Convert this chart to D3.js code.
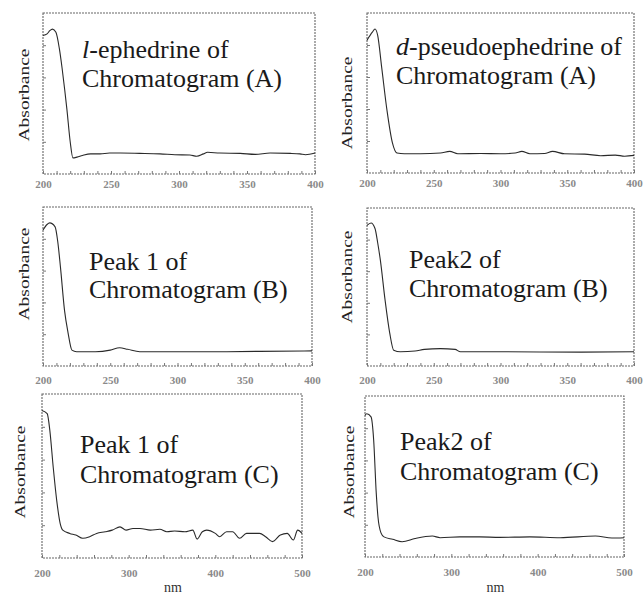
<!DOCTYPE html>
<html>
<head>
<meta charset="utf-8">
<script src="https://cdn.jsdelivr.net/npm/d3@7"></script>
<style>
  html, body { margin: 0; padding: 0; background: #fff; }
  svg { display: block; }
</style>
</head>
<body>
<svg id="chart" width="644" height="596"></svg>
<script>
// UV spectra: wavelength (nm) and relative absorbance (0..1 of the frame)
const nmA1 = [200, 203, 205, 207, 209.5, 212, 214, 216, 217.6, 220, 222, 225, 229, 235, 242, 249, 257, 271, 286, 297, 308, 313, 318, 321, 330, 345, 356, 367, 382, 389, 393, 400];
const absA1 = [0.86, 0.87, 0.89, 0.90, 0.88, 0.78, 0.66, 0.52, 0.40, 0.20, 0.10, 0.105, 0.115, 0.125, 0.125, 0.13, 0.13, 0.128, 0.125, 0.12, 0.118, 0.11, 0.125, 0.135, 0.13, 0.128, 0.122, 0.13, 0.128, 0.125, 0.12, 0.13];

const nmA2 = [200, 204, 206, 208, 211, 215, 219, 222.5, 228, 240, 255, 262, 268, 285, 300, 311, 316, 322, 333, 339, 348, 363, 375, 386, 393, 400];
const absA2 = [0.83, 0.88, 0.90, 0.86, 0.66, 0.39, 0.19, 0.125, 0.12, 0.12, 0.125, 0.135, 0.12, 0.122, 0.12, 0.125, 0.135, 0.12, 0.122, 0.135, 0.12, 0.118, 0.108, 0.112, 0.105, 0.11];

const nmB1 = [200, 203, 205, 209, 211, 213, 216, 218.6, 221.5, 225, 239, 250, 257, 263, 272, 294, 332, 361, 400];
const absB1 = [0.855, 0.89, 0.90, 0.875, 0.78, 0.62, 0.35, 0.21, 0.10, 0.09, 0.09, 0.10, 0.115, 0.105, 0.09, 0.09, 0.09, 0.092, 0.095];

const nmB2 = [200, 203, 206, 208, 210, 213.5, 217, 220, 225, 236, 243, 255, 266, 270, 300, 360, 400];
const absB2 = [0.89, 0.905, 0.87, 0.78, 0.67, 0.42, 0.21, 0.10, 0.09, 0.095, 0.105, 0.11, 0.105, 0.09, 0.09, 0.088, 0.09];

const nmC1 = [200, 206, 209, 213, 217, 221, 224, 232, 239, 247, 255, 263, 273, 281, 290, 297, 305, 313, 325, 336, 344, 353, 365, 374, 379, 385, 390, 400, 405, 413, 420, 428, 436, 446, 451, 458, 466, 475, 483, 490, 495, 500];
const absC1 = [0.90, 0.88, 0.78, 0.55, 0.35, 0.21, 0.17, 0.15, 0.14, 0.12, 0.13, 0.15, 0.16, 0.17, 0.19, 0.17, 0.18, 0.18, 0.17, 0.175, 0.16, 0.165, 0.16, 0.17, 0.115, 0.16, 0.17, 0.15, 0.13, 0.16, 0.16, 0.12, 0.15, 0.15, 0.15, 0.13, 0.10, 0.14, 0.15, 0.11, 0.17, 0.15];

const nmC2 = [200, 202, 207, 210, 213, 215, 218.5, 222, 232, 243, 258, 278, 287, 310, 333, 356, 391, 426, 467, 486, 500];
const absC2 = [0.88, 0.89, 0.87, 0.73, 0.40, 0.25, 0.15, 0.125, 0.11, 0.095, 0.115, 0.13, 0.12, 0.125, 0.125, 0.122, 0.125, 0.12, 0.13, 0.118, 0.12];

const ticksShort = [200, 250, 300, 350, 400];
const ticksLong = [200, 300, 400, 500];

const SERIF = "'Liberation Serif', 'Times New Roman', Tinos, 'DejaVu Serif', serif";

const panels = [
  { nm: nmA1, abs: absA1, domain: [200, 400], ticks: ticksShort, minor: 10,
    box: [43, 13, 315, 174], pad: 6, absX: 29, absY: 95,
    title: [['l', '-ephedrine of'], ['', 'Chromatogram (A)']], tx: 82, ty: [58, 87] },
  { nm: nmA2, abs: absA2, domain: [200, 400], ticks: ticksShort, minor: 10,
    box: [367, 13, 634, 173], pad: 6, absX: 352, absY: 103,
    title: [['d', '-pseudoephedrine of'], ['', 'Chromatogram (A)']], tx: 396, ty: [55, 84] },
  { nm: nmB1, abs: absB1, domain: [200, 400], ticks: ticksShort, minor: 10,
    box: [43, 207, 312, 366], pad: 10, absX: 29, absY: 274,
    title: [['', 'Peak 1 of'], ['', 'Chromatogram (B)']], tx: 89, ty: [270, 298] },
  { nm: nmB2, abs: absB2, domain: [200, 400], ticks: ticksShort, minor: 10,
    box: [367, 208, 634, 366], pad: 10, absX: 352, absY: 277,
    title: [['', 'Peak2 of'], ['', 'Chromatogram (B)']], tx: 409, ty: [268, 297] },
  { nm: nmC1, abs: absC1, domain: [200, 500], ticks: ticksLong, minor: 20,
    box: [42, 394, 302, 558], pad: 11, absX: 25, absY: 472, xlabel: 'nm',
    title: [['', 'Peak 1 of'], ['', 'Chromatogram (C)']], tx: 80, ty: [453, 483] },
  { nm: nmC2, abs: absC2, domain: [200, 500], ticks: ticksLong, minor: 20,
    box: [365, 396, 624, 557], pad: 11, absX: 354, absY: 472, xlabel: 'nm',
    title: [['', 'Peak2 of'], ['', 'Chromatogram (C)']], tx: 400, ty: [450, 480] },
];

const svg = d3.select('#chart');

panels.forEach(drawPanel);

function drawPanel(p) {
  const [left, top, right, bottom] = p.box;
  const x = d3.scaleLinear().domain(p.domain).range([left, right]);
  const y = d3.scaleLinear().domain([0, 1]).range([bottom, top]);
  const g = svg.append('g').attr('font-family', SERIF);

  // frame (the scan makes it look dotted)
  g.append('rect')
    .attr('x', left)
    .attr('y', top)
    .attr('width', right - left)
    .attr('height', bottom - top)
    .attr('fill', 'none')
    .attr('stroke', '#666')
    .attr('stroke-width', 1.1)
    .attr('stroke-dasharray', '2,1');

  // small inward ticks
  const minorX = g.append('g')
    .attr('transform', `translate(0,${bottom})`)
    .call(
      d3.axisBottom(x)
        .tickValues(d3.range(p.domain[0], p.domain[1] + 1, p.minor))
        .tickSize(-3)
        .tickFormat(''),
    );
  const minorY = g.append('g')
    .attr('transform', `translate(${left},0)`)
    .call(d3.axisLeft(y).tickValues([0.2, 0.4, 0.6, 0.8]).tickSize(-3).tickFormat(''));
  [minorX, minorY].forEach((axis) => {
    axis.select('.domain').remove();
    axis.selectAll('line').attr('stroke', '#777');
  });

  // tick labels
  const labels = g.append('g')
    .attr('transform', `translate(0,${bottom})`)
    .call(d3.axisBottom(x).tickValues(p.ticks).tickSize(0).tickPadding(p.pad).tickFormat(d3.format('d')));
  labels.select('.domain').remove();
  labels.attr('font-family', SERIF).attr('font-size', 11);
  labels.selectAll('text')
    .attr('fill', '#8a8a8a')
    .attr('font-weight', 'bold');

  // spectrum
  const points = p.nm.map((d, i) => [d, p.abs[i]]);
  const line = d3.line()
    .x((d) => x(d[0]))
    .y((d) => y(d[1]))
    .curve(d3.curveMonotoneX);
  g.append('path')
    .datum(points)
    .attr('d', line)
    .attr('fill', 'none')
    .attr('stroke', '#2a2a2a')
    .attr('stroke-width', 1.1)
    .attr('stroke-linejoin', 'round');

  // y axis title
  g.append('text')
    .attr('transform', `translate(${p.absX},${p.absY}) rotate(-90)`)
    .attr('text-anchor', 'middle')
    .attr('font-size', 15)
    .attr('fill', '#222')
    .attr('textLength', 93)
    .attr('lengthAdjust', 'spacingAndGlyphs')
    .text('Absorbance');

  if (p.xlabel) {
    g.append('text')
      .attr('x', (left + right) / 2 + 1)
      .attr('y', 592)
      .attr('text-anchor', 'middle')
      .attr('font-size', 14)
      .attr('fill', '#333')
      .text(p.xlabel);
  }

  // panel caption
  p.title.forEach((parts, i) => {
    const t = g.append('text')
      .attr('x', p.tx)
      .attr('y', p.ty[i])
      .attr('font-size', 26)
      .attr('fill', '#1a1a1a');
    if (parts[0]) {
      t.append('tspan').attr('font-style', 'italic').text(parts[0]);
    }
    t.append('tspan').text(parts[1]);
  });
}
</script>
</body>
</html>
